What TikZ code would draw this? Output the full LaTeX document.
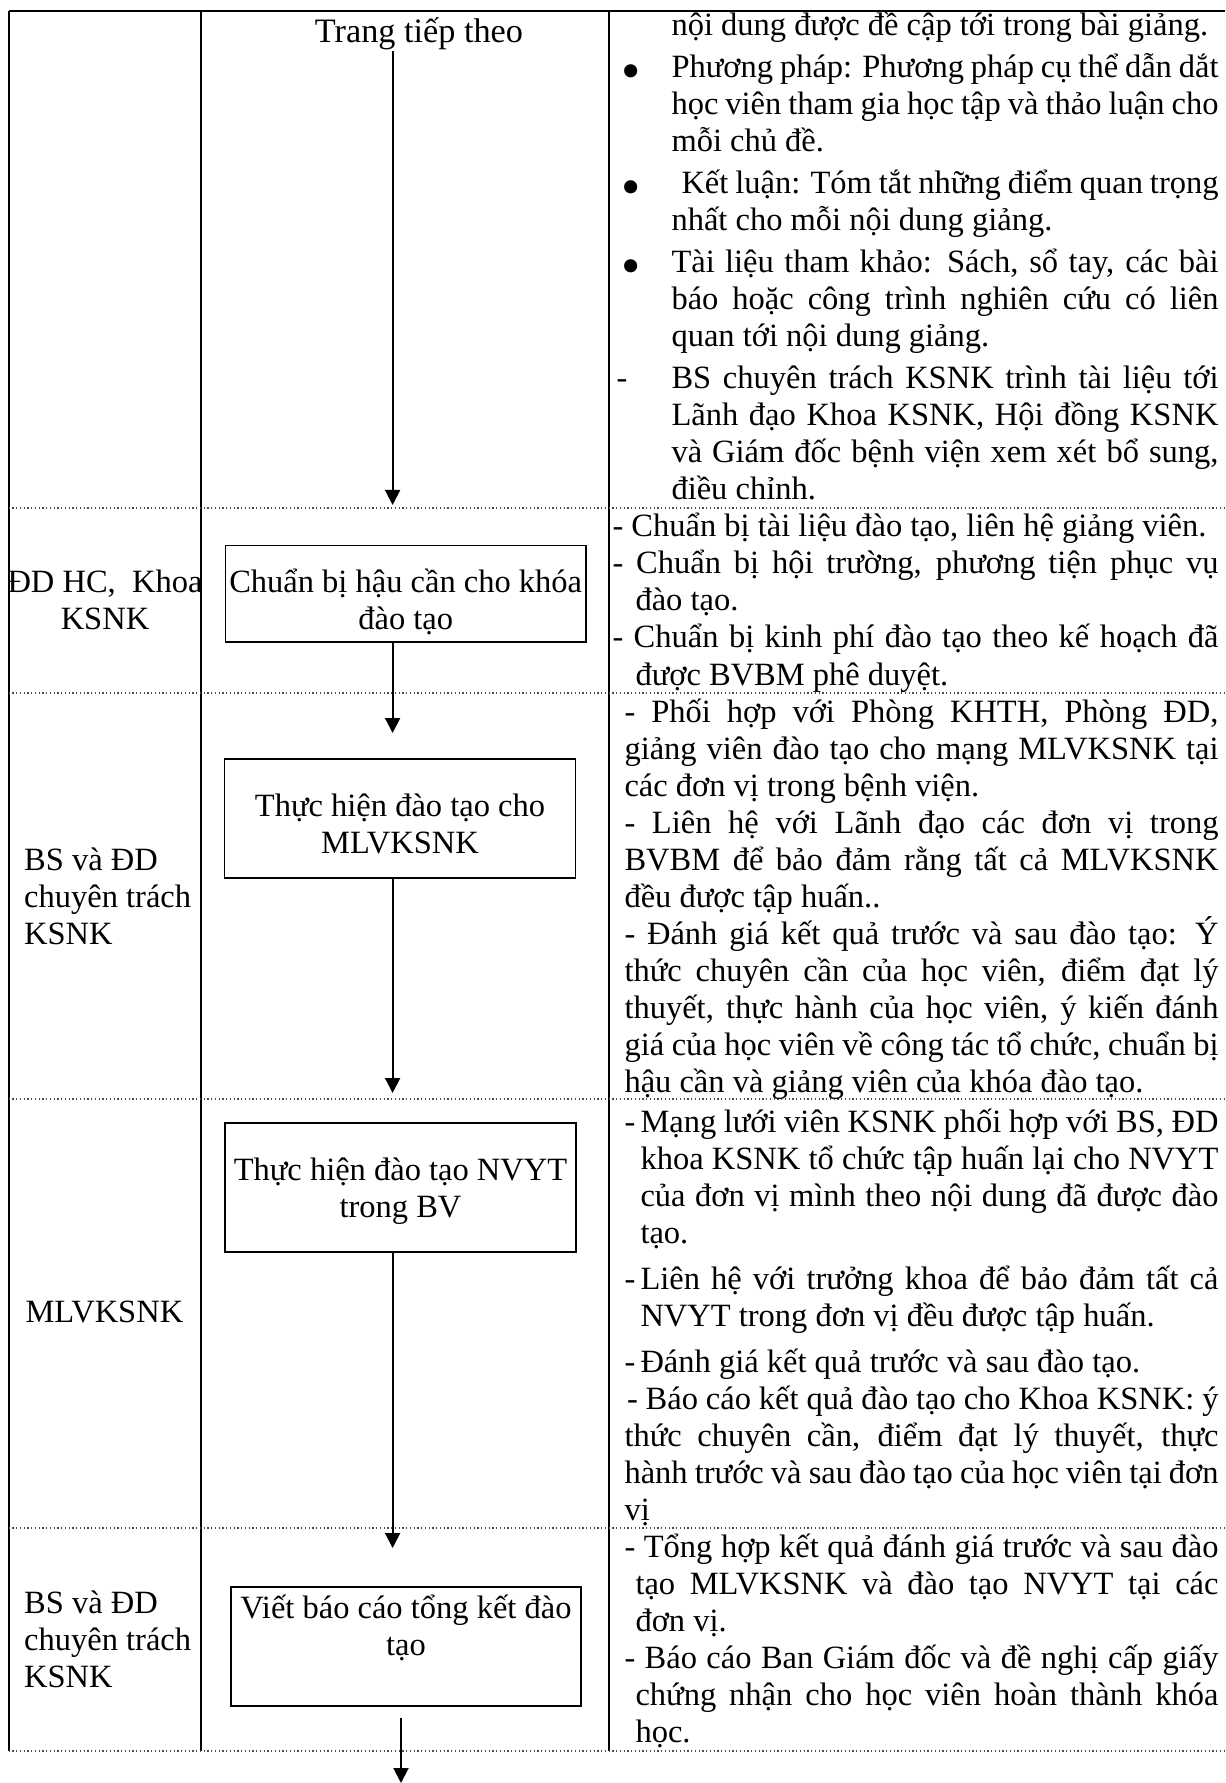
\documentclass[tikz,border=0pt]{standalone}
\usepackage{fontspec}
\setmainfont{Liberation Serif}
\usepackage{tikz}
\usetikzlibrary{arrows.meta,positioning}

\tolerance=10000
\hyphenpenalty=10000
% hanging item: indent, marker offset, marker
\newcommand{\itm}[3]{\noindent\hangindent=#1\hangafter=1\makebox[#1][l]{\hspace*{#2}#3}\ignorespaces}
\newcommand{\hng}[1]{\noindent\hangindent=#1\hangafter=1\ignorespaces}
\newcommand{\bigdot}{\raisebox{-4.5pt}{\fontsize{22pt}{22pt}\selectfont\textbullet}}

\begin{document}
\begin{tikzpicture}[
  x=0.4pt, y=-0.4pt,
  every node/.style={font=\fontsize{13pt}{14.8pt}\selectfont, inner sep=0pt},
  arrow/.style={-{Triangle[length=6pt,width=6pt]}, line width=0.8pt},
  gridline/.style={line width=0.8pt},
  rowsep/.style={densely dotted, line width=0.5pt, black!70},
  stepbox/.style={draw, line width=0.6pt, align=flush center, anchor=base},
  lane/.style={anchor=base west, text width=#1, align=flush left},
  note/.style={anchor=base west, text width=#1, align=justify}
]
\useasboundingbox (0,0) rectangle (1225,1783);

% Table frame
\draw[gridline] (8.7,11) -- (1225,11);
\draw[gridline] (8.7,11) -- (8.7,1751);
\draw[gridline] (201,11) -- (201,1751);
\draw[gridline] (609,11) -- (609,1751);

% Row separators
\draw[rowsep] (8.7,508) -- (1225,508);
\draw[rowsep] (8.7,693) -- (1225,693);
\draw[rowsep] (8.7,1099) -- (1225,1099);
\draw[rowsep] (8.7,1528) -- (1225,1528);
\draw[rowsep] (8.7,1751) -- (1225,1751);

% Flow column
\coordinate (spine) at (392.6,0);
\node[anchor=base, font=\fontsize{13.7pt}{15pt}\selectfont] (title) at (419,43) {Trang tiếp theo};
\node[stepbox, text width=144.2pt, text height=18.9pt, text depth=19.5pt] (prep) at (405.7,593)
  {Chuẩn bị hậu cần cho khóa\\đào tạo};
\node[stepbox, text width=140.3pt, text height=22.8pt, text depth=24.8pt] (trainnet) at (400,816)
  {Thực hiện đào tạo cho\\MLVKSNK};
\node[stepbox, text width=140.4pt, text height=22.8pt, text depth=28.8pt] (trainstaff) at (400.5,1180)
  {Thực hiện đào tạo NVYT\\trong BV};
\node[stepbox, text width=140pt, text height=12.4pt, text depth=35.2pt] (report) at (406,1618)
  {Viết báo cáo tổng kết đào\\tạo};

% Arrow ends
\coordinate (tip1) at (392.6,505);
\coordinate (tip2) at (392.6,733);
\coordinate (tip3) at (392.6,1093);
\coordinate (tip4) at (392.6,1548);
\coordinate (tip5) at (401,1783);

\draw[arrow] (title.south -| spine) -- (tip1);
\draw[arrow] (prep.south -| spine) -- (tip2);
\draw[arrow] (trainnet.south -| spine) -- (tip3);
\draw[arrow] (trainstaff.south -| spine) -- (tip4);
\draw[arrow] ([shift={(-5,11)}]report.south) -- (tip5);

% Who
\node[anchor=base, text width=80pt, align=flush center] (who2) at (105,593) {ĐD HC,\ \ Khoa\\KSNK};
\node[lane=70pt] (who3) at (23.7,870) {BS và ĐD\\chuyên trách\\KSNK};
\node[lane=70pt] (who4) at (25,1322) {MLVKSNK};
\node[lane=70pt] (who5) at (23.7,1613) {BS và ĐD\\chuyên trách\\KSNK};

% Notes
\node[note=240.8pt] (notes1) at (616,36) {%
\hspace*{22pt}nội dung được đề cập tới trong bài giảng.\par\vspace{2pt}
\itm{22pt}{1.8pt}{\bigdot}Phương pháp: Phương pháp cụ thể dẫn dắt\linebreak học viên tham gia học tập và thảo luận cho\linebreak mỗi chủ đề.\par\vspace{2pt}
\itm{22pt}{1.8pt}{\bigdot}\hspace{4pt}Kết luận: Tóm tắt những điểm quan trọng\linebreak nhất cho mỗi nội dung giảng.\par\vspace{2pt}
\itm{22pt}{1.8pt}{\bigdot}Tài liệu tham khảo: Sách, sổ tay, các bài\linebreak báo hoặc công trình nghiên cứu có liên\linebreak quan tới nội dung giảng.\par\vspace{2pt}
\itm{22pt}{0pt}{-}BS chuyên trách KSNK trình tài liệu tới\linebreak Lãnh đạo Khoa KSNK, Hội đồng KSNK\linebreak và Giám đốc bệnh viện xem xét bổ sung,\linebreak điều chỉnh.\par};

\node[note=242.4pt] (notes2) at (612,537) {%
- Chuẩn bị tài liệu đào tạo, liên hệ giảng viên.\par
\hng{9.2pt}- Chuẩn bị hội trường, phương tiện phục vụ\linebreak đào tạo.\par
\hng{9.2pt}- Chuẩn bị kinh phí đào tạo theo kế hoạch đã\linebreak được BVBM phê duyệt.\par};

\node[note=237.6pt] (notes3) at (624,722) {%
- Phối hợp với Phòng KHTH, Phòng ĐD,\linebreak giảng viên đào tạo cho mạng MLVKSNK tại\linebreak các đơn vị trong bệnh viện.\par
- Liên hệ với Lãnh đạo các đơn vị trong\linebreak BVBM để bảo đảm rằng tất cả MLVKSNK\linebreak đều được tập huấn..\par
- Đánh giá kết quả trước và sau đào tạo: Ý\linebreak thức chuyên cần của học viên, điểm đạt lý\linebreak thuyết, thực hành của học viên, ý kiến đánh\linebreak giá của học viên về công tác tổ chức, chuẩn bị\linebreak hậu cần và giảng viên của khóa đào tạo.\par};

\node[note=237.6pt] (notes4) at (624,1132) {%
\itm{6.4pt}{0pt}{-}Mạng lưới viên KSNK phối hợp với BS, ĐD\linebreak khoa KSNK tổ chức tập huấn lại cho NVYT\linebreak của đơn vị mình theo nội dung đã được đào\linebreak tạo.\par\vspace{3.6pt}
\itm{6.4pt}{0pt}{-}Liên hệ với trưởng khoa để bảo đảm tất cả\linebreak NVYT trong đơn vị đều được tập huấn.\par\vspace{3.6pt}
\itm{6.4pt}{0pt}{-}Đánh giá kết quả trước và sau đào tạo.\par
\hspace*{1pt}- Báo cáo kết quả đào tạo cho Khoa KSNK: ý\linebreak thức chuyên cần, điểm đạt lý thuyết, thực\linebreak hành trước và sau đào tạo của học viên tại đơn\linebreak vị\par};

\node[note=237.6pt] (notes5) at (624,1557) {%
\hng{4.4pt}- Tổng hợp kết quả đánh giá trước và sau đào\linebreak tạo MLVKSNK và đào tạo NVYT tại các\linebreak đơn vị.\par
\hng{4.4pt}- Báo cáo Ban Giám đốc và đề nghị cấp giấy\linebreak chứng nhận cho học viên hoàn thành khóa\linebreak học.\par};

\end{tikzpicture}
\end{document}
